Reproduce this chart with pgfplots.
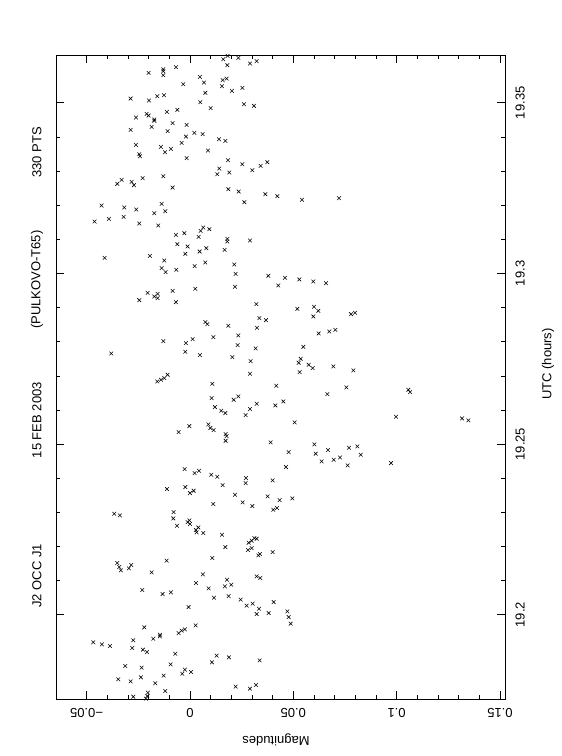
\documentclass[border=0pt]{standalone}
\usepackage{pgfplots}
\pgfplotsset{compat=1.18}
\usepackage{fontspec}
\setmainfont{Liberation Sans}
\pgfplotstableread{
x y
0.01613 19.36276
0.01823 19.36374
0.02339 19.36315
0.01807 19.36101
0.02903 19.36149
0.03226 19.36218
-0.02000 19.35876
-0.01290 19.35983
-0.01290 19.35925
-0.01290 19.35808
-0.00677 19.36042
0.00484 19.35759
0.00677 19.35593
0.01581 19.35661
0.01774 19.35710
0.01548 19.35486
-0.00323 19.35544
0.02032 19.35349
0.02532 19.35437
0.00742 19.35291
-0.02871 19.35125
-0.01984 19.35066
-0.01581 19.35193
-0.01258 19.35222
0.00500 19.35017
0.01000 19.34842
0.02613 19.34959
0.03097 19.34910
-0.02097 19.34676
-0.02000 19.34627
-0.01113 19.34734
-0.00613 19.34793
-0.02613 19.34568
-0.01726 19.34510
-0.01726 19.34471
-0.00839 19.34402
-0.00161 19.34354
-0.01855 19.34295
-0.02871 19.34207
-0.01081 19.34168
0.00210 19.34119
0.00613 19.34080
-0.00194 19.34010
-0.02613 19.33766
-0.01403 19.33708
-0.00919 19.33649
-0.01210 19.33551
-0.00403 19.33825
-0.02452 19.33493
-0.02420 19.33434
-0.00161 19.33376
0.00871 19.33600
0.01403 19.33932
0.01710 19.33883
0.01839 19.33317
0.02532 19.33200
0.01419 19.33073
0.01323 19.32907
0.01903 19.32956
0.03016 19.33024
0.03420 19.33151
0.03742 19.33259
-0.03516 19.32624
-0.03307 19.32741
-0.02823 19.32683
-0.02710 19.32585
-0.02290 19.32790
-0.01290 19.32849
-0.00839 19.32517
0.01855 19.32468
0.02355 19.32400
0.02629 19.32087
0.03645 19.32322
0.04226 19.32263
0.05420 19.32156
0.07210 19.32205
-0.04274 19.31990
-0.03178 19.31931
-0.02597 19.31873
-0.01371 19.32039
-0.01194 19.31824
-0.01726 19.31765
-0.04613 19.31521
-0.03920 19.31599
-0.03210 19.31657
-0.02452 19.31462
-0.01532 19.31404
-0.00677 19.31130
-0.00274 19.31179
0.00419 19.31072
0.00516 19.31248
0.00645 19.31345
0.00936 19.31296
0.01807 19.31013
0.01807 19.30935
0.02903 19.30964
-0.00613 19.30857
-0.00113 19.30789
-0.00226 19.30574
0.00468 19.30642
0.00790 19.30740
0.01678 19.30691
-0.04129 19.30457
-0.01936 19.30515
-0.01242 19.30379
-0.01371 19.30154
-0.01177 19.30037
-0.00661 19.30106
0.00226 19.30213
0.00742 19.30320
0.02145 19.30262
0.02210 19.29988
0.03791 19.29930
0.04597 19.29871
0.05291 19.29823
0.05968 19.29764
0.06581 19.29715
0.04274 19.29647
0.02178 19.29608
-0.02049 19.29432
-0.01565 19.29403
-0.00839 19.29491
0.00258 19.29549
-0.02452 19.29217
-0.01726 19.29324
-0.01565 19.29275
-0.00677 19.29158
0.03210 19.29100
0.05194 19.28963
0.06000 19.29022
0.06210 19.28905
0.05968 19.28739
0.07791 19.28807
0.07984 19.28846
0.03355 19.28690
0.03678 19.28631
0.00742 19.28573
0.00839 19.28514
0.01855 19.28465
0.03242 19.28407
0.06226 19.28241
0.06742 19.28299
0.07033 19.28348
-0.01290 19.28016
-0.00194 19.27958
0.00129 19.28075
0.01129 19.28133
0.02339 19.28182
0.02307 19.27899
0.03178 19.27802
0.05484 19.27850
-0.03807 19.27655
-0.00226 19.27704
0.00484 19.27606
0.02049 19.27548
0.02936 19.27431
0.05258 19.27382
0.05355 19.27499
0.05742 19.27323
0.05936 19.27226
0.06936 19.27275
0.07904 19.27157
0.05307 19.27109
0.02903 19.27060
-0.01081 19.27031
-0.01581 19.26835
-0.01403 19.26884
-0.01242 19.26932
0.01081 19.26766
0.04178 19.26708
0.07565 19.26659
0.06646 19.26464
0.10565 19.26591
0.10646 19.26522
0.01048 19.26347
0.02113 19.26298
0.02339 19.26396
0.01210 19.26083
0.01516 19.25976
0.01710 19.25908
0.02903 19.26025
0.03226 19.26181
0.04129 19.26132
0.04516 19.26249
0.02694 19.25849
0.05065 19.25634
0.09968 19.25800
0.13162 19.25751
0.13469 19.25693
-0.00548 19.25351
-0.00032 19.25527
0.00887 19.25576
0.00984 19.25468
0.01145 19.25410
0.01726 19.25293
0.01774 19.25234
0.01726 19.25097
0.03903 19.25049
0.06016 19.24990
0.06678 19.24824
0.07694 19.24892
0.08097 19.24931
0.04774 19.24766
0.06081 19.24717
0.08259 19.24687
0.06371 19.24491
0.06952 19.24540
0.07259 19.24608
0.07629 19.24374
0.09726 19.24442
-0.00258 19.24266
0.00226 19.24149
0.00436 19.24218
0.01032 19.24100
0.01323 19.24042
0.04645 19.24325
0.02710 19.24003
0.02694 19.23856
0.04000 19.23934
0.01581 19.23798
-0.01113 19.23681
-0.00226 19.23739
0.00000 19.23564
0.00177 19.23632
0.02178 19.23515
0.01129 19.23242
0.02549 19.23290
0.03016 19.23183
0.03758 19.23466
0.04339 19.23359
0.04952 19.23407
0.04033 19.23076
0.04210 19.23124
-0.03662 19.22958
-0.03387 19.22910
-0.00790 19.23007
-0.00807 19.22822
-0.00629 19.22607
-0.00113 19.22715
-0.00032 19.22763
0.00000 19.22656
0.00290 19.22480
0.00403 19.22558
0.00323 19.22412
0.00645 19.22392
0.01548 19.22343
0.02839 19.22109
0.02984 19.22167
0.03113 19.22245
0.03226 19.22226
0.02984 19.21953
0.02807 19.21894
0.01710 19.21982
0.01081 19.21660
0.03307 19.21738
0.03387 19.21777
0.04000 19.21835
-0.03516 19.21513
-0.03420 19.21396
-0.03339 19.21299
-0.02952 19.21357
-0.02839 19.21455
-0.01855 19.21240
-0.01129 19.21582
0.00629 19.21182
0.01790 19.21025
0.01694 19.20830
0.02000 19.20879
0.00290 19.20928
0.00903 19.20772
0.03226 19.21123
0.03403 19.21074
-0.02307 19.20723
-0.01323 19.20606
-0.00919 19.20654
0.01161 19.20498
0.01871 19.20547
0.02452 19.20440
0.02742 19.20264
0.03033 19.20323
0.03339 19.20176
0.04049 19.20371
-0.00065 19.20225
0.04710 19.20098
0.03807 19.20049
0.03226 19.20020
0.04774 19.19932
0.04871 19.19736
0.00274 19.19688
-0.02210 19.19629
-0.00548 19.19463
-0.00403 19.19532
-0.00242 19.19571
-0.01774 19.19297
-0.01452 19.19366
-0.01452 19.19414
-0.04678 19.19190
-0.04258 19.19131
-0.03871 19.19083
-0.02742 19.19249
-0.02790 19.19024
-0.02274 19.18975
-0.02081 19.18907
-0.00710 19.18858
0.01065 19.18604
0.01290 19.18799
0.01887 19.18751
0.03371 19.18663
-0.03129 19.18497
-0.02339 19.18448
-0.00936 19.18546
-0.00371 19.18272
-0.00242 19.18390
0.00048 19.18321
-0.01274 19.18214
-0.03468 19.18107
-0.02871 19.18048
-0.02371 19.18165
-0.01678 19.17989
-0.01194 19.17764
0.02210 19.17892
0.02903 19.17833
0.03194 19.17940
-0.02742 19.17599
-0.02032 19.17716
-0.02065 19.17619
-0.02129 19.17540
}\occdata
\begin{document}
\begin{tikzpicture}
\path[use as bounding box] (0pt,0pt) rectangle (562pt,756pt);
\begin{axis}[
  at={(56pt,57pt)}, anchor=south west,
  scale only axis, width=449pt, height=644pt,
  xmin=-0.0648, xmax=0.1524, ymin=19.1753, ymax=19.364,
  xtick={-0.05,0,0.05,0.1,0.15},
  xticklabels={−0.05,0,0.05,0.1,0.15},
  ytick={19.2,19.25,19.3,19.35},
  yticklabels={19.2,19.25,19.3,19.35},
  minor x tick num=4, minor y tick num=4,
  tick align=inside,
  xtick pos=both, ytick pos=both,
  xticklabel pos=lower, yticklabel pos=right,
  major tick length=8pt, minor tick length=4pt,
  every tick/.style={black, line width=0.6pt},
  axis line style={line width=0.8pt},
  xticklabel shift=6pt, yticklabel shift=7pt,
  xticklabel style={rotate=180, anchor=south, font=\fontsize{13}{13}\selectfont},
  yticklabel style={rotate=90, anchor=north, font=\fontsize{13}{13}\selectfont},
  clip=false,
]
\addplot[only marks, mark=x, mark size=2.6pt, line width=0.55pt, black] table[x=x,y=y] {\occdata};
\node[rotate=180, font=\fontsize{13}{13}\selectfont] at (rel axis cs:0.49,-0.0637) {Magnitudes};
\node[rotate=90, font=\fontsize{13}{13}\selectfont] at (rel axis cs:1.096,0.52) {UTC (hours)};
\node[rotate=90, font=\fontsize{13}{13}\selectfont] at (rel axis cs:-0.0423,0.191) {J2 OCC J1};
\node[rotate=90, font=\fontsize{13}{13}\selectfont] at (rel axis cs:-0.0423,0.433) {15 FEB 2003};
\node[rotate=90, font=\fontsize{13}{13}\selectfont] at (rel axis cs:-0.0423,0.651) {(PULKOVO-T65)};
\node[rotate=90, font=\fontsize{13}{13}\selectfont] at (rel axis cs:-0.0423,0.849) {330 PTS};
\end{axis}
\end{tikzpicture}
\end{document}
